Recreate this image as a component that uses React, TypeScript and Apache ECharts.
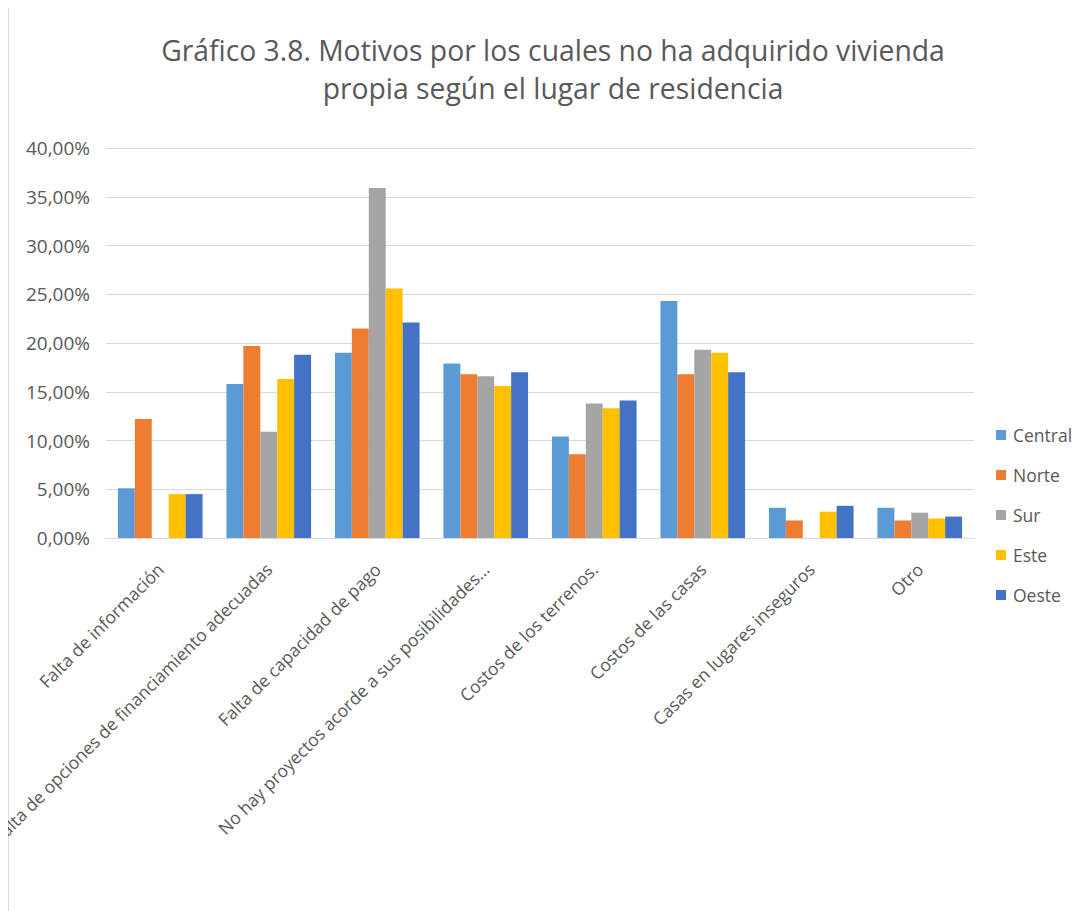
import React, { useEffect, useRef } from "react";
import * as echarts from "echarts";

const categories = [
  "Falta de información",
  "Falta de opciones de financiamiento adecuadas",
  "Falta de capacidad de pago",
  "No hay proyectos acorde a sus posibilidades…",
  "Costos de los terrenos.",
  "Costos de las casas",
  "Casas en lugares inseguros",
  "Otro",
];

const seriesNames = ["Central", "Norte", "Sur", "Este", "Oeste"];

const central = [5.1, 15.8, 19.0, 17.9, 10.4, 24.3, 3.1, 3.1];
const norte = [12.2, 19.7, 21.5, 16.8, 8.6, 16.8, 1.8, 1.8];
const sur = [0, 10.9, 35.9, 16.6, 13.8, 19.3, 0, 2.6];
const este = [4.5, 16.3, 25.6, 15.6, 13.3, 19.0, 2.7, 2.0];
const oeste = [4.5, 18.8, 22.1, 17.0, 14.1, 17.0, 3.3, 2.2];

const yTicks = [0, 5, 10, 15, 20, 25, 30, 35, 40];

const colors = ["#5B9BD5", "#ED7D31", "#A5A5A5", "#FFC000", "#4472C4"];

const titleLines = [
  "Gráfico 3.8. Motivos por los cuales no ha adquirido vivienda",
  "propia según el lugar de residencia",
];

const FONT = "'Open Sans', 'Noto Sans', sans-serif";

export default function App() {
  const ref = useRef<HTMLDivElement>(null);

  useEffect(() => {
    if (!ref.current) return;
    const chart = echarts.init(ref.current, undefined, { renderer: "svg" });
    const values = [central, norte, sur, este, oeste];
    chart.setOption({
      animation: false,
      backgroundColor: "#ffffff",
      textStyle: { fontFamily: FONT },
      graphic: [
        {
          type: "line",
          shape: { x1: 0.5, y1: 0, x2: 0.5, y2: 903 },
          style: { stroke: "#d9d9d9", lineWidth: 1 },
        },
        ...titleLines.map((t, i) => ({
          type: "text",
          x: 545,
          y: 42 + i * 38,
          style: {
            text: t,
            fontSize: 28.3,
            fontFamily: FONT,
            fill: "#595959",
            textAlign: "center",
            textVerticalAlign: "middle",
          },
        })),
      ],
      legend: {
        orient: "vertical",
        left: 988,
        top: 418,
        padding: 0,
        itemWidth: 10,
        itemHeight: 10,
        itemGap: 22,
        icon: "rect",
        data: seriesNames,
        textStyle: { fontSize: 17.5, color: "#595959", fontFamily: FONT, padding: [0, 0, 0, 2] },
      },
      grid: {
        left: 98,
        right: 112,
        top: 140,
        bottom: 373,
        containLabel: false,
        outerBoundsMode: "none",
      },
      xAxis: {
        type: "category",
        data: categories,
        axisLine: { show: true, lineStyle: { color: "#d9d9d9" } },
        axisTick: { show: false },
        axisLabel: {
          rotate: 45,
          interval: 0,
          margin: 28,
          fontSize: 17.5,
          color: "#595959",
          fontFamily: FONT,
        },
      },
      yAxis: {
        type: "value",
        min: yTicks[0],
        max: yTicks[yTicks.length - 1],
        interval: 5,
        axisLine: { show: false },
        axisTick: { show: false },
        splitLine: { lineStyle: { color: "#d9d9d9" } },
        axisLabel: {
          margin: 16,
          fontSize: 19,
          color: "#595959",
          fontFamily: FONT,
          formatter: (v: number) => v.toFixed(2).replace(".", ",") + "%",
        },
      },
      series: seriesNames.map((name, i) => ({
        name,
        type: "bar",
        data: values[i],
        barGap: "0%",
        barCategoryGap: "22%",
        itemStyle: { color: colors[i] },
      })),
    });
    return () => chart.dispose();
  }, []);

  return <div ref={ref} style={{ width: 1078, height: 903 }} />;
}
